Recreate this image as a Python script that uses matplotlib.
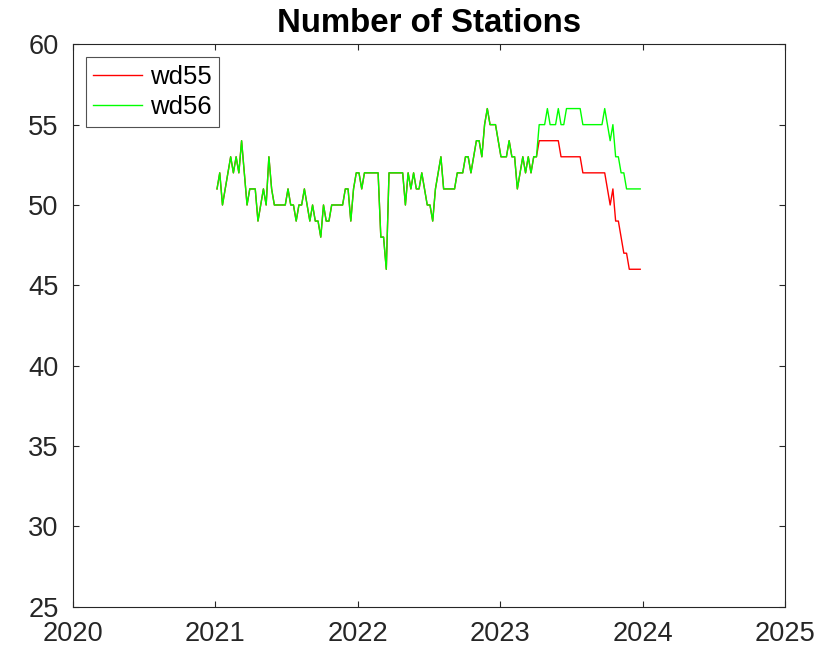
import numpy as np
import pandas as pd
import matplotlib
matplotlib.use("Agg")
import matplotlib.pyplot as plt
import matplotlib.dates as mdates

plt.rcParams['font.family'] = ['Liberation Sans', 'DejaVu Sans']

# Weekly station counts
start_date = "2021-01-05"
wd55 = [51, 52, 50, 51, 52, 53, 52, 53, 52, 54,
        52, 50, 51, 51, 51, 49, 50, 51, 50, 53,
        51, 50, 50, 50, 50, 50, 51, 50, 50, 49,
        50, 50, 51, 50, 49, 50, 49, 49, 48, 50,
        49, 49, 50, 50, 50, 50, 50, 51, 51, 49,
        51, 52, 52, 51, 52, 52, 52, 52, 52, 52,
        48, 48, 46, 52, 52, 52, 52, 52, 52, 50,
        52, 51, 52, 51, 51, 52, 51, 50, 50, 49,
        51, 52, 53, 51, 51, 51, 51, 51, 52, 52,
        52, 53, 53, 52, 53, 54, 54, 53, 55, 56,
        55, 55, 55, 54, 53, 53, 53, 54, 53, 53,
        51, 52, 53, 52, 53, 52, 53, 53, 54, 54,
        54, 54, 54, 54, 54, 54, 53, 53, 53, 53,
        53, 53, 53, 53, 52, 52, 52, 52, 52, 52,
        52, 52, 52, 51, 50, 51, 49, 49, 48, 47,
        47, 46, 46, 46, 46, 46]
wd56 = [51, 52, 50, 51, 52, 53, 52, 53, 52, 54,
        52, 50, 51, 51, 51, 49, 50, 51, 50, 53,
        51, 50, 50, 50, 50, 50, 51, 50, 50, 49,
        50, 50, 51, 50, 49, 50, 49, 49, 48, 50,
        49, 49, 50, 50, 50, 50, 50, 51, 51, 49,
        51, 52, 52, 51, 52, 52, 52, 52, 52, 52,
        48, 48, 46, 52, 52, 52, 52, 52, 52, 50,
        52, 51, 52, 51, 51, 52, 51, 50, 50, 49,
        51, 52, 53, 51, 51, 51, 51, 51, 52, 52,
        52, 53, 53, 52, 53, 54, 54, 53, 55, 56,
        55, 55, 55, 54, 53, 53, 53, 54, 53, 53,
        51, 52, 53, 52, 53, 52, 53, 53, 55, 55,
        55, 56, 55, 55, 55, 56, 55, 55, 56, 56,
        56, 56, 56, 56, 55, 55, 55, 55, 55, 55,
        55, 55, 56, 55, 54, 55, 53, 53, 52, 52,
        51, 51, 51, 51, 51, 51]
series_names = ["wd55", "wd56"]
series_colors = ["#ff0000", "#00ff00"]
year_ticks = [2020, 2021, 2022, 2023, 2024, 2025]
y_ticks = [25, 30, 35, 40, 45, 50, 55, 60]

dates = pd.date_range(start_date, periods=len(wd55), freq="7D")

fig = plt.figure(figsize=(8.27, 6.52), dpi=100)
ax = fig.add_axes([72.7 / 827, (652 - 606.7) / 652, 712.6 / 827, 562.4 / 652])

for vals, name, col in zip([wd55, wd56], series_names, series_colors):
    ax.plot(dates, vals, color=col, lw=1.0, label=name)

axis_col = "#262626"
tick_dates = [pd.Timestamp(f"{y}-01-01") for y in year_ticks]
ax.set_xlim(tick_dates[0], tick_dates[-1])
ax.set_xticks(tick_dates)
ax.set_xticklabels([str(y) for y in year_ticks])
ax.set_ylim(y_ticks[0], y_ticks[-1])
ax.set_yticks(y_ticks)

ax.tick_params(direction="in", length=4, width=0.8, colors=axis_col,
               labelsize=19.6, top=True, right=True, pad=10)
ax.tick_params(axis="y", pad=10)
for s in ax.spines.values():
    s.set_color(axis_col)
    s.set_linewidth(0.8)

ax.set_title("Number of Stations", fontsize=23.8, fontweight="bold", pad=9)

leg = ax.legend(loc="upper left", bbox_to_anchor=(0.0182, 0.977), fontsize=18.5,
                frameon=True, fancybox=False, edgecolor=axis_col,
                handlelength=1.9, handletextpad=0.3, borderpad=0.3,
                labelspacing=0.25, borderaxespad=0)
leg.get_frame().set_linewidth(0.8)

fig.savefig("out.png", dpi=100)
